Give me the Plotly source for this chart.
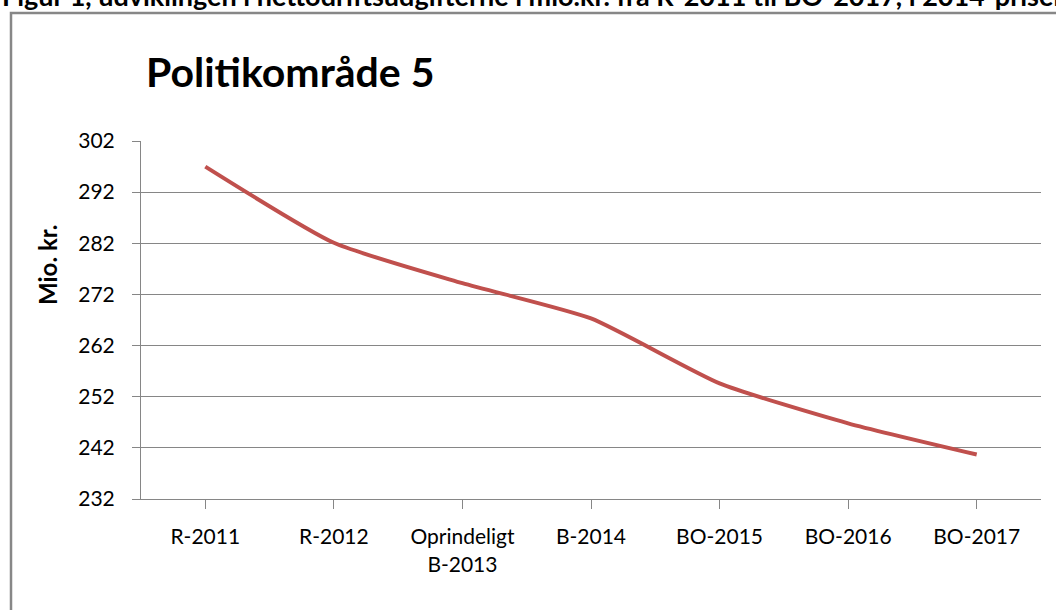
import plotly.graph_objects as go

categories = ["R-2011", "R-2012", "Oprindeligt<br>B-2013", "B-2014", "BO-2015", "BO-2016", "BO-2017"]
values = [297.0, 282.1, 274.2, 267.3, 254.6, 246.8, 240.7]
y_ticks = [232, 242, 252, 262, 272, 282, 292, 302]

title_text = "Politikområde 5"
y_title = "Mio. kr."
caption = "Figur 1, udviklingen i nettodriftsudgifterne i mio.kr. fra R-2011 til BO-2017, i 2014-priser"

W, H = 1056, 610
L, R, T, B = 141, 15, 141, 111
pw, ph = W - L - R, H - T - B

def px(x):
    return (x - L) / pw

def py(y):
    return (H - B - y) / ph

grid = "#868686"
font = "Lato, 'Open Sans', sans-serif"

fig = go.Figure()
fig.add_trace(go.Scatter(
    x=list(range(len(categories))), y=values, mode="lines",
    line=dict(color="#C0504D", width=4, shape="spline", smoothing=0.55),
    hoverinfo="skip", showlegend=False,
))

fig.update_layout(
    width=W, height=H,
    margin=dict(l=L, r=R, t=T, b=B, autoexpand=False),
    paper_bgcolor="white", plot_bgcolor="white",
    font=dict(family=font, color="black", size=21),
    xaxis=dict(
        tickmode="array", tickvals=list(range(len(categories))), ticktext=categories,
        range=[-0.5, len(categories) - 0.5],
        showgrid=False, showline=True, linecolor=grid, linewidth=1,
        ticks="outside", ticklen=9, tickcolor=grid, tickwidth=1,
        tickson="boundaries", ticklabelstandoff=10,
        tickfont=dict(size=21, family=font, color="black"),
        zeroline=False,
    ),
    yaxis=dict(
        range=[232, 302], tickmode="array", tickvals=y_ticks,
        ticktext=[str(v) for v in y_ticks],
        showgrid=True, gridcolor=grid, gridwidth=1,
        showline=True, linecolor=grid, linewidth=1,
        ticks="outside", ticklen=8, tickcolor=grid, tickwidth=1,
        ticklabelstandoff=13,
        tickfont=dict(size=21, family=font, color="black"),
        zeroline=False,
    ),
    shapes=[dict(
        type="rect", xref="paper", yref="paper",
        x0=px(11), x1=px(W + 20), y0=py(H + 20), y1=py(13),
        line=dict(color="#878787", width=2.5), fillcolor="rgba(0,0,0,0)", layer="below",
    )],
    annotations=[
        dict(text="<b>" + caption + "</b>", xref="paper", yref="paper",
             x=px(0), y=py(14), xanchor="left", yanchor="bottom", showarrow=False,
             font=dict(size=27, family=font, color="black")),
        dict(text="<b>" + title_text + "</b>", xref="paper", yref="paper",
             x=px(144), y=py(71), xanchor="left", yanchor="middle", showarrow=False,
             font=dict(size=41, family=font, color="black")),
        dict(text="<b>" + y_title + "</b>", xref="paper", yref="paper",
             x=px(47), y=py(265), xanchor="center", yanchor="middle", showarrow=False,
             textangle=-90, font=dict(size=24, family=font, color="black")),
    ],
)

fig.write_html(
    "out.html",
    config={"displayModeBar": False},
    post_script="document.body.style.margin='0';document.body.style.overflow='hidden';",
)
